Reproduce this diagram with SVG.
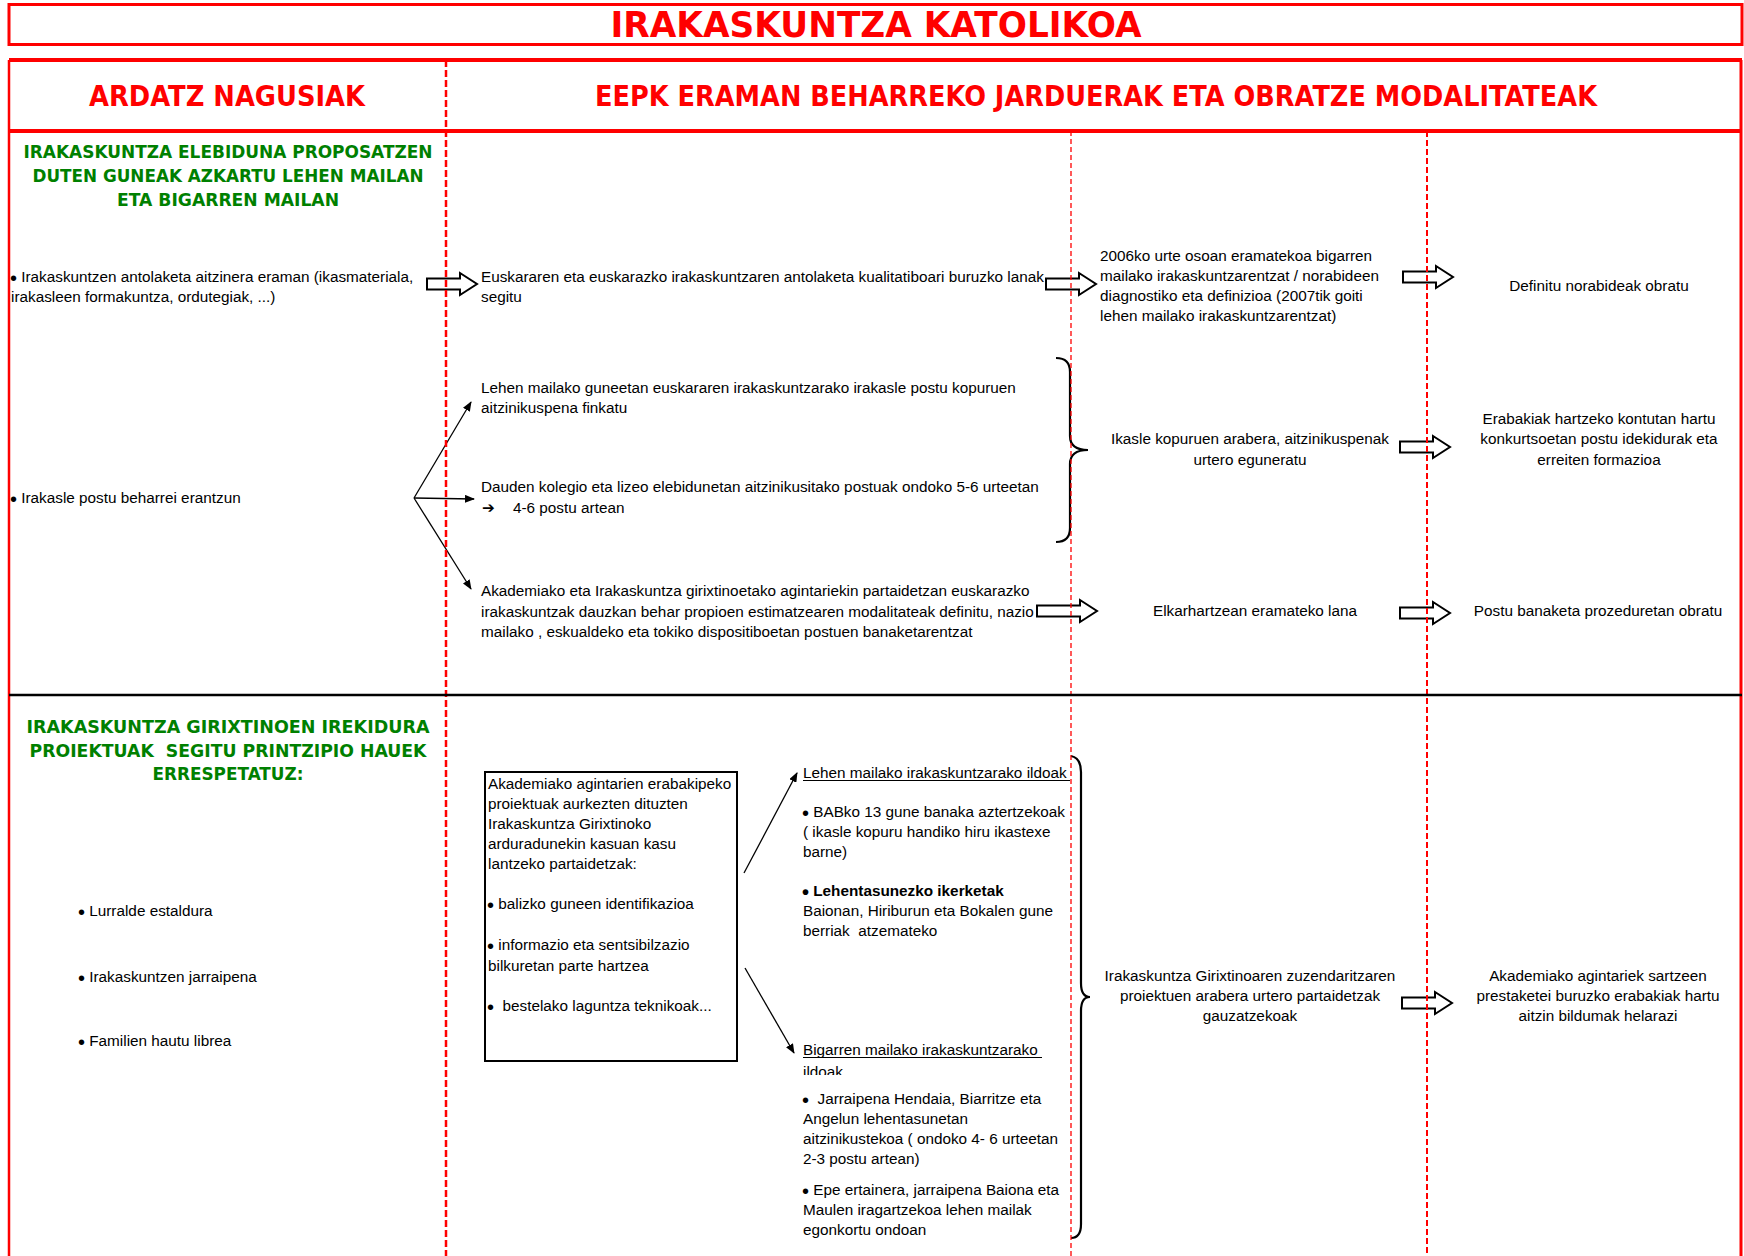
<svg xmlns="http://www.w3.org/2000/svg" width="1744" height="1256" viewBox="0 0 1744 1256">
<defs>
<style>
.t{font-family:"Liberation Sans",Arial,sans-serif;font-size:15.3px;fill:#000}
.c{text-anchor:middle}
.b{font-weight:bold}
.bl{font-size:20px;baseline-shift:-2.5px}
.h{font-family:"DejaVu Sans",Verdana,sans-serif;font-weight:bold;fill:#ff0000;text-anchor:middle}
.g{font-family:"DejaVu Sans",Verdana,sans-serif;font-weight:bold;fill:#008000;font-size:18.5px;text-anchor:middle}
.sym{font-family:"DejaVu Sans",sans-serif;font-weight:bold}
.blk{fill:#fff;stroke:#000;stroke-width:2;stroke-linejoin:miter}
.thin{fill:none;stroke:#000;stroke-width:1.3;marker-end:url(#ah)}
.brace{fill:none;stroke:#000;stroke-width:2.2}
.ul{stroke:#000;stroke-width:1.2}
</style>
<marker id="ah" viewBox="0 0 10 8" refX="9" refY="4" markerWidth="10" markerHeight="8" markerUnits="userSpaceOnUse" orient="auto"><path d="M0,0 L10,4 L0,8 Z" fill="#000"/></marker>
<path id="blk" d="M0,-5.5 H33 V-11 L50,0 L33,11 V5.5 H0 Z"/>
<clipPath id="clipIld"><rect x="795" y="1058" width="120" height="17"/></clipPath>
</defs>
<rect x="0" y="0" width="1744" height="1256" fill="#fff"/>

<g id="title">
<rect x="9" y="4.5" width="1733" height="40" fill="#fff" stroke="#ff0000" stroke-width="3"/>
<text class="h" x="876" y="37" font-size="36" textLength="531" lengthAdjust="spacingAndGlyphs">IRAKASKUNTZA KATOLIKOA</text>
</g>

<g id="headers">
<text class="h" x="227" y="106" font-size="27.5" textLength="276" lengthAdjust="spacingAndGlyphs">ARDATZ NAGUSIAK</text>
<text class="h" x="1096" y="106" font-size="27.5" textLength="1002" lengthAdjust="spacingAndGlyphs">EEPK ERAMAN BEHARREKO JARDUERAK ETA OBRATZE MODALITATEAK</text>
</g>

<g id="sec1-heading">
<text class="g" x="228" y="158" textLength="409" lengthAdjust="spacingAndGlyphs">IRAKASKUNTZA ELEBIDUNA PROPOSATZEN</text>
<text class="g" x="228" y="182" textLength="391" lengthAdjust="spacingAndGlyphs">DUTEN GUNEAK AZKARTU LEHEN MAILAN</text>
<text class="g" x="228" y="206" textLength="222" lengthAdjust="spacingAndGlyphs">ETA BIGARREN MAILAN</text>
</g>

<g id="r1-left">
<text class="t" x="10" y="281.5"><tspan class="bl">•</tspan> Irakaskuntzen antolaketa aitzinera eraman (ikasmateriala,</text>
<text class="t" x="11" y="301.5">irakasleen formakuntza, ordutegiak, ...)</text>
</g>
<g id="r1-c2">
<text class="t" x="481" y="281.5">Euskararen eta euskarazko irakaskuntzaren antolaketa kualitatiboari buruzko lanak</text>
<text class="t" x="481" y="301.5">segitu</text>
</g>
<g id="r1-c3">
<text class="t" x="1100" y="261">2006ko urte osoan eramatekoa bigarren</text>
<text class="t" x="1100" y="281">mailako irakaskuntzarentzat / norabideen</text>
<text class="t" x="1100" y="301">diagnostiko eta definizioa (2007tik goiti</text>
<text class="t" x="1100" y="321">lehen mailako irakaskuntzarentzat)</text>
</g>
<g id="r1-c4">
<text class="t c" x="1599" y="291">Definitu norabideak obratu</text>
</g>

<g id="r2-left">
<text class="t" x="10" y="503"><tspan class="bl">•</tspan> Irakasle postu beharrei erantzun</text>
</g>
<g id="r2-a">
<text class="t" x="481" y="393">Lehen mailako guneetan euskararen irakaskuntzarako irakasle postu kopuruen</text>
<text class="t" x="481" y="413">aitzinikuspena finkatu</text>
</g>
<g id="r2-b">
<text class="t" x="481" y="492">Dauden kolegio eta lizeo elebidunetan aitzinikusitako postuak ondoko 5-6 urteetan</text>
<text class="t sym" x="482" y="513" font-size="15">➔</text>
<text class="t" x="513" y="513">4-6 postu artean</text>
</g>
<g id="r2-c">
<text class="t" x="481" y="596">Akademiako eta Irakaskuntza girixtinoetako agintariekin partaidetzan euskarazko</text>
<text class="t" x="481" y="617">irakaskuntzak dauzkan behar propioen estimatzearen modalitateak definitu, nazio</text>
<text class="t" x="481" y="637">mailako , eskualdeko eta tokiko dispositiboetan postuen banaketarentzat</text>
</g>
<g id="r2-d">
<text class="t c" x="1250" y="444">Ikasle kopuruen arabera, aitzinikuspenak</text>
<text class="t c" x="1250" y="465">urtero eguneratu</text>
</g>
<g id="r2-e">
<text class="t c" x="1599" y="424">Erabakiak hartzeko kontutan hartu</text>
<text class="t c" x="1599" y="444">konkurtsoetan postu idekidurak eta</text>
<text class="t c" x="1599" y="465">erreiten formazioa</text>
</g>
<g id="r2-f">
<text class="t c" x="1255" y="616">Elkarhartzean eramateko lana</text>
</g>
<g id="r2-g">
<text class="t c" x="1598" y="616">Postu banaketa prozeduretan obratu</text>
</g>

<g id="sec2-heading">
<text class="g" x="228" y="733" textLength="403" lengthAdjust="spacingAndGlyphs">IRAKASKUNTZA GIRIXTINOEN IREKIDURA</text>
<text class="g" x="228" y="757" textLength="397" lengthAdjust="spacingAndGlyphs" xml:space="preserve">PROIEKTUAK  SEGITU PRINTZIPIO HAUEK</text>
<text class="g" x="228" y="780" textLength="151" lengthAdjust="spacingAndGlyphs">ERRESPETATUZ:</text>
</g>
<g id="sec2-principles">
<text class="t" x="78" y="916"><tspan class="bl">•</tspan> Lurralde estaldura</text>
<text class="t" x="78" y="982"><tspan class="bl">•</tspan> Irakaskuntzen jarraipena</text>
<text class="t" x="78" y="1046"><tspan class="bl">•</tspan> Familien hautu librea</text>
</g>
<g id="s2-box">
<rect x="485" y="772" width="252" height="289" fill="#fff" stroke="#000" stroke-width="2"/>
<text class="t" x="488" y="789">Akademiako agintarien erabakipeko</text>
<text class="t" x="488" y="809">proiektuak aurkezten dituzten</text>
<text class="t" x="488" y="829">Irakaskuntza Girixtinoko</text>
<text class="t" x="488" y="849">arduradunekin kasuan kasu</text>
<text class="t" x="488" y="869">lantzeko partaidetzak:</text>
<text class="t" x="487" y="909"><tspan class="bl">•</tspan> balizko guneen identifikazioa</text>
<text class="t" x="487" y="950"><tspan class="bl">•</tspan> informazio eta sentsibilzazio</text>
<text class="t" x="488" y="971">bilkuretan parte hartzea</text>
<text class="t" x="487" y="1011" xml:space="preserve"><tspan class="bl">•</tspan>  bestelako laguntza teknikoak...</text>
</g>
<g id="s2-lehen">
<text class="t" x="803" y="778">Lehen mailako irakaskuntzarako ildoak</text>
<line class="ul" x1="803" y1="780.5" x2="1070" y2="780.5"/>
<text class="t" x="802" y="817"><tspan class="bl">•</tspan> BABko 13 gune banaka aztertzekoak</text>
<text class="t" x="803" y="837">( ikasle kopuru handiko hiru ikastexe</text>
<text class="t" x="803" y="857">barne)</text>
<text class="t b" x="802" y="896"><tspan class="bl">•</tspan> Lehentasunezko ikerketak</text>
<text class="t" x="803" y="916">Baionan, Hiriburun eta Bokalen gune</text>
<text class="t" x="803" y="936" xml:space="preserve">berriak  atzemateko</text>
</g>
<g id="s2-bigarren">
<text class="t" x="803" y="1055">Bigarren mailako irakaskuntzarako </text>
<line class="ul" x1="803" y1="1057.5" x2="1042" y2="1057.5"/>
<text class="t" x="803" y="1077" clip-path="url(#clipIld)">ildoak</text>
<text class="t" x="802" y="1104" xml:space="preserve"><tspan class="bl">•</tspan>  Jarraipena Hendaia, Biarritze eta</text>
<text class="t" x="803" y="1124">Angelun lehentasunetan</text>
<text class="t" x="803" y="1144">aitzinikustekoa ( ondoko 4- 6 urteetan</text>
<text class="t" x="803" y="1164">2-3 postu artean)</text>
<text class="t" x="802" y="1195"><tspan class="bl">•</tspan> Epe ertainera, jarraipena Baiona eta</text>
<text class="t" x="803" y="1215">Maulen iragartzekoa lehen mailak</text>
<text class="t" x="803" y="1235">egonkortu ondoan</text>
</g>
<g id="s2-d">
<text class="t c" x="1250" y="981">Irakaskuntza Girixtinoaren zuzendaritzaren</text>
<text class="t c" x="1250" y="1001">proiektuen arabera urtero partaidetzak</text>
<text class="t c" x="1250" y="1021">gauzatzekoak</text>
</g>
<g id="s2-e">
<text class="t c" x="1598" y="981">Akademiako agintariek sartzeen</text>
<text class="t c" x="1598" y="1001">prestaketei buruzko erabakiak hartu</text>
<text class="t c" x="1598" y="1021">aitzin bildumak helarazi</text>
</g>

<g id="connectors">
<use href="#blk" class="blk" transform="translate(427,284)"/>
<use href="#blk" class="blk" transform="translate(1046,284)"/>
<use href="#blk" class="blk" transform="translate(1403,277)"/>
<use href="#blk" class="blk" transform="translate(1400,447)"/>
<path class="blk" d="M1037,605.5 H1080 V600 L1097,611 L1080,622 V616.5 H1037 Z"/>
<use href="#blk" class="blk" transform="translate(1400,613)"/>
<use href="#blk" class="blk" transform="translate(1402,1003)"/>
<path class="thin" d="M414,498 L471,402"/>
<path class="thin" d="M414,498 L474,499" stroke-width="2"/>
<path class="thin" d="M414,498 L471,589"/>
<path class="thin" d="M744,873 L797,773"/>
<path class="thin" d="M745,968 L794,1053"/>
<path class="brace" d="M1056,358 Q1070,358 1070,372 L1070,436 Q1070,450 1088,450 Q1070,450 1070,464 L1070,528 Q1070,542 1056,542"/>
<path class="brace" d="M1071,756 Q1081,758 1081,772 L1081,983 Q1081,997 1090,997 Q1081,997 1081,1011 L1081,1224 Q1081,1238 1071,1238"/>
</g>

<g id="grid">
<path d="M9,60 H1742" stroke="#ff0000" stroke-width="4"/>
<path d="M9,131 H1742" stroke="#ff0000" stroke-width="4"/>
<path d="M9,60 V1256" stroke="#ff0000" stroke-width="2.5"/>
<path d="M1741,60 V1256" stroke="#ff0000" stroke-width="3"/>
<path d="M446,60 V1256" stroke="#ff0000" stroke-width="2.5" stroke-dasharray="7,3"/>
<path d="M1071,131 V1256" stroke="#ff0000" stroke-width="1.3" stroke-dasharray="5,3"/>
<path d="M1427,131 V1256" stroke="#ff0000" stroke-width="2" stroke-dasharray="6,3"/>
<path d="M9,695 H1742" stroke="#000" stroke-width="2.5"/>
</g>
</svg>
